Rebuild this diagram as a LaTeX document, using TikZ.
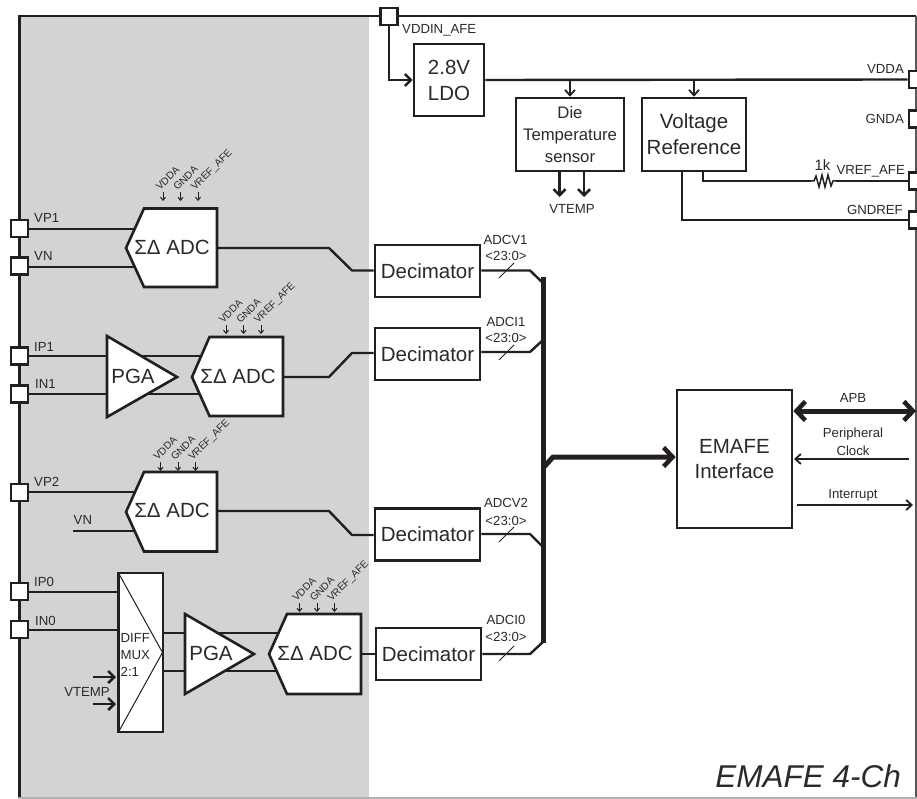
\documentclass[tikz,border=0pt]{standalone}
\usepackage{fontspec}
\setmainfont{Liberation Sans}
\usetikzlibrary{arrows.meta,calc}
\definecolor{ink}{HTML}{231F20}
\definecolor{txt}{HTML}{2B2A2B}
\definecolor{panel}{HTML}{D1D3D4}
\tikzset{
  x=1pt,y=-1pt,
  wire/.style={draw=ink,line width=2.4pt},
  thin wire/.style={draw=ink,line width=1.8pt},
  bus/.style={draw=ink,line width=5pt},
  tip/.style={-{Straight Barb[length=5.5pt,width=10pt,line width=1.8pt]}},
  midtip/.style={-{Straight Barb[length=6pt,width=12pt,line width=2.6pt]}},
  bigtip/.style={-{Straight Barb[length=9pt,width=19pt,line width=4.5pt]}},
  pinbox/.style={draw=ink,fill=white,line width=2.6pt,minimum width=17pt,minimum height=17pt,inner sep=0pt},
  block/.style={draw=ink,fill=white,line width=2.6pt,inner sep=0pt,align=center,text=txt},
  shapeline/.style={draw=ink,fill=white,line width=2.6pt,line join=miter},
  big/.style={font=\fontsize{20.5}{26}\selectfont,text=txt},
  lab/.style={font=\fontsize{13.2}{16}\selectfont,text=txt,inner sep=0pt},
  small/.style={font=\fontsize{10.2}{12}\selectfont,text=txt,inner sep=0pt,rotate=45,anchor=base west},
}
\newcommand{\supply}[3]{%
  \node[small] (#1a) at (#2-3,#3-1) {VDDA};
  \node[small] (#1b) at (#2+14.5,#3-1) {GNDA};
  \node[small] (#1c) at (#2+32,#3-1) {VREF\_AFE};
  \coordinate (#1at) at (#2,#3); \coordinate (#1ab) at (#2,#3+9);
  \coordinate (#1bt) at (#2+17.5,#3); \coordinate (#1bb) at (#2+17.5,#3+9);
  \coordinate (#1ct) at (#2+35,#3); \coordinate (#1cb) at (#2+35,#3+9);
  \draw[draw=ink,line width=1pt,-{Straight Barb[length=3pt,width=5pt,line width=1pt]}] (#1at)--(#1ab);
  \draw[draw=ink,line width=1pt,-{Straight Barb[length=3pt,width=5pt,line width=1pt]}] (#1bt)--(#1bb);
  \draw[draw=ink,line width=1pt,-{Straight Barb[length=3pt,width=5pt,line width=1pt]}] (#1ct)--(#1cb);
}
\begin{document}
\begin{tikzpicture}
\useasboundingbox (0,0) rectangle (917,799);
\clip (0,0) rectangle (917,799);
\fill[white] (0,0) rectangle (917,799);
\fill[panel] (18,15) rectangle (369,798);
\draw[draw=ink,line width=2.4pt] (19.5,798) -- (19.5,16) -- (916,16);
\draw[draw=ink!75,line width=1.4pt] (916,16) -- (916,798);
\draw[draw=black!30,line width=1.2pt] (18,798) -- (917,798);

\node[pinbox] (vp1) at (19.5,228.5) {};
\node[pinbox] (vn) at (19.5,266) {};
\node[pinbox] (ip1) at (19.5,356) {};
\node[pinbox] (in1) at (19.5,394) {};
\node[pinbox] (vp2) at (19.5,492.5) {};
\node[pinbox] (ip0) at (19.5,591.5) {};
\node[pinbox] (in0) at (19.5,629.5) {};
\node[pinbox] (vddin) at (389,16.5) {};
\node[pinbox] (vdda) at (917.5,79.5) {};
\node[pinbox] (gnda) at (917.5,119) {};
\node[pinbox] (vref) at (917.5,181) {};
\node[pinbox] (gndref) at (917.5,220) {};

\coordinate (a1in1) at (134,229); \coordinate (a1in2) at (134,267);
\coordinate (a1out) at (217,248);
\coordinate (a2in1) at (200,356); \coordinate (a2in2) at (200,394);
\coordinate (a2out) at (283,377);
\coordinate (a3in1) at (134,492); \coordinate (a3in2) at (134,531);
\coordinate (a3out) at (217,511);
\coordinate (a4in1) at (278,633); \coordinate (a4in2) at (278,671);
\coordinate (a4out) at (361,654);
\coordinate (mo1) at (163,633); \coordinate (mo2) at (163,671);
\coordinate (mi1) at (118,592); \coordinate (mi2) at (118,630);
\coordinate (vnstart) at (73,531);

\draw[wire] (vp1.east |- a1in1) -- (a1in1);
\draw[wire] (vn.east |- a1in2) -- (a1in2);
\draw[wire] (ip1) -- (a2in1);
\draw[wire] (in1) -- (a2in2);
\draw[wire] (vp2.east |- a3in1) -- (a3in1);
\draw[wire] (vnstart) -- (a3in2);
\draw[wire] (ip0.east |- mi1) -- (mi1);
\draw[wire] (in0.east |- mi2) -- (mi2);
\draw[wire] (mo1) -- (a4in1);
\draw[wire] (mo2) -- (a4in2);

\draw[shapeline] (126,248) -- (144,208.5) -- (217,208.5) -- (217,287) -- (144,287) -- cycle;
\node[big,inner sep=0pt] (adc1) at (172,247.5) {ΣΔ ADC};
\draw[shapeline] (192,377) -- (209.5,337) -- (283,337) -- (283,416) -- (209.5,416) -- cycle;
\node[big,inner sep=0pt] (adc2) at (238,376.5) {ΣΔ ADC};
\draw[shapeline] (126,512) -- (144,472) -- (217,472) -- (217,551.5) -- (144,551.5) -- cycle;
\node[big,inner sep=0pt] (adc3) at (172,510.5) {ΣΔ ADC};
\draw[shapeline] (269,654) -- (287,614) -- (361,614) -- (361,694) -- (287,694) -- cycle;
\node[big,inner sep=0pt] (adc4) at (315,653.5) {ΣΔ ADC};

\draw[shapeline] (107,336) -- (177,377) -- (107,417) -- cycle;
\node[big,inner sep=0pt] (pga1) at (133,376.5) {PGA};
\draw[shapeline] (185,614) -- (254,654) -- (185,694) -- cycle;
\node[big,inner sep=0pt] (pga2) at (211,653.5) {PGA};

\draw[shapeline] (118.5,573) rectangle (163,732);
\draw[draw=ink,line width=1pt] (118.5,573) -- (162.5,652.5) -- (118.5,732);
\node[lab,anchor=west,align=left] (muxa) at (120.5,638) {DIFF};
\node[lab,anchor=west,align=left] (muxb) at (120.5,655) {MUX};
\node[lab,anchor=west,align=left] (muxc) at (120.5,672) {2:1};
\coordinate (vt1) at (93,677); \coordinate (vt1e) at (116,677);
\coordinate (vt2) at (93,704); \coordinate (vt2e) at (116,704);
\draw[wire,midtip] (vt1) -- (vt1e);
\draw[wire,midtip] (vt2) -- (vt2e);
\node[lab] (vtempm) at (87,692) {VTEMP};

\supply{s1}{163}{192}
\supply{s2}{226}{325}
\supply{s3}{160.5}{462}
\supply{s4}{299.5}{603}

\node[lab,anchor=west] (lvp1) at (34,218) {VP1};
\node[lab,anchor=west] (lvn) at (34,256) {VN};
\node[lab,anchor=west] (lip1) at (34,347) {IP1};
\node[lab,anchor=west] (lin1) at (35,384) {IN1};
\node[lab,anchor=west] (lvp2) at (34,482) {VP2};
\node[lab,anchor=west] (lvn2) at (73.5,520) {VN};
\node[lab,anchor=west] (lip0) at (34,582) {IP0};
\node[lab,anchor=west] (lin0) at (35,621) {IN0};

\node[block,big,minimum width=105pt,minimum height=52pt] (d1) at (427.5,271) {Decimator};
\node[block,big,minimum width=105pt,minimum height=52pt] (d2) at (427.5,354) {Decimator};
\node[block,big,minimum width=105pt,minimum height=52pt] (d3) at (427.5,534.5) {Decimator};
\node[block,big,minimum width=105pt,minimum height=52pt] (d4) at (428.5,654) {Decimator};
\draw[wire,line join=bevel] (a1out) -- (329,248) -- (352,270.5) -- (d1.west |- 0,270.5);
\draw[wire,line join=bevel] (a2out) -- (329,377) -- (352,353) -- (d2.west |- 0,353);
\draw[wire,line join=bevel] (a3out) -- (329,511) -- (352,535) -- (d3.west |- 0,535);
\draw[wire] (a4out) -- (d4.west |- a4out);

\coordinate (bustop) at (543,277); \coordinate (busbot) at (543,643);
\coordinate (busmid) at (544,467);
\draw[bus] (bustop) -- (busbot);
\draw[wire,line join=bevel] (d1.east |- 0,270.5) -- (530,270.5) -- (543,283);
\draw[wire,line join=bevel] (d2.east |- 0,352) -- (530,352) -- (543,340);
\draw[wire,line join=bevel] (d3.east |- 0,534) -- (530,534) -- (543,547);
\draw[wire,line join=bevel] (d4.east) -- (530,654) -- (543,642);

\draw[draw=ink,line width=1pt] (499,278) -- (514,263);
\draw[draw=ink,line width=1pt] (499,360) -- (514,345);
\draw[draw=ink,line width=1pt] (499,542) -- (514,527);
\draw[draw=ink,line width=1pt] (499,661) -- (514,646);
\node[lab] (w1a) at (505.5,240) {ADCV1};
\node[lab] (w1b) at (506,256) {<23:0>};
\node[lab] (w2a) at (506,322) {ADCI1};
\node[lab] (w2b) at (506,338) {<23:0>};
\node[lab] (w3a) at (506,503) {ADCV2};
\node[lab] (w3b) at (506,520.5) {<23:0>};
\node[lab] (w4a) at (506,620) {ADCI0};
\node[lab] (w4b) at (506,637) {<23:0>};

\node[block,big,minimum width=115pt,minimum height=138pt] (emafe) at (734.5,459) {EMAFE\\[-1pt]Interface};
\draw[bus,line join=bevel,bigtip] (busmid) -- (553,457) -- (emafe.west |- 0,457);
\coordinate (apbe) at (916,411);
\draw[draw=ink,line width=5pt,{Straight Barb[length=9pt,width=19pt,line width=4.5pt]}-{Straight Barb[length=9pt,width=19pt,line width=4.5pt]}] (emafe.east |- apbe) -- (apbe);
\coordinate (clke) at (909,459); \coordinate (clki) at (794,459);
\draw[thin wire,tip] (clke) -- (clki);
\coordinate (inta) at (797,505); \coordinate (intb) at (913,505);
\draw[thin wire,tip] (inta) -- (intb);
\node[lab] (apb) at (853,398) {APB};
\node[lab] (pc1) at (853,434) {Peripheral};
\node[lab] (pc2) at (853,451) {Clock};
\node[lab] (intr) at (853,495) {Interrupt};

\node[block,big,minimum width=70pt,minimum height=72pt] (ldo) at (449,80) {2.8V\\[0pt]LDO};
\node[block,font=\fontsize{16.7}{22}\selectfont,minimum width=108pt,minimum height=73pt] (temp) at (570,134.5) {Die\\Temperature\\sensor};
\node[block,big,minimum width=104pt,minimum height=73pt] (vr) at (694,134.5) {Voltage\\Reference};
\draw[wire,midtip,line join=miter] (vddin.south) |- (ldo.west);
\draw[wire] (ldo.east) -- (vdda.west);
\draw[wire,tip] (temp.north |- 0,80) -- (temp.north);
\draw[wire,tip] (vr.north |- 0,80) -- (vr.north);
\coordinate (vt3) at (559.5,197); \coordinate (vt4) at (584,197);
\draw[draw=ink,line width=2.6pt,midtip] (vt3 |- temp.south) -- (vt3);
\draw[draw=ink,line width=2.6pt,midtip] (vt4 |- temp.south) -- (vt4);
\node[lab] (vtemp) at (572,209) {VTEMP};
\node[lab,anchor=west] (lvddin) at (402,30) {VDDIN\_AFE};
\node[lab,anchor=east] (lvdda) at (904,69) {VDDA};
\node[lab,anchor=east] (lgnda) at (904,119) {GNDA};
\node[lab,anchor=east] (lvref) at (905,171) {VREF\_AFE};
\node[lab,anchor=east] (lgndref) at (903,210) {GNDREF};
\node[inner sep=0pt,font=\fontsize{15}{18}\selectfont,text=txt] (onek) at (822.5,165) {1k};
\coordinate (ra) at (703,171); \coordinate (rb) at (703,181);
\coordinate (r1) at (811,181); \coordinate (r2) at (836,181);
\draw[wire,line join=miter] (ra) -- (rb) -- (r1);
\draw[draw=ink,line width=1.5pt] (r1) -- (814,181) -- (816,176) -- (819,187) -- (822,175) -- (825,187) -- (828,175) -- (831,186) -- (833,181) -- (r2);
\draw[wire] (r2) -- (vref.west);
\coordinate (ga) at (682,171);
\draw[wire,line join=miter] (ga) |- (gndref.west);

\node[inner sep=0pt,anchor=base east,font=\fontsize{31.5}{36}\itshape\selectfont,text=txt] (title) at (901,787) {EMAFE 4-Ch};
\end{tikzpicture}
\end{document}
